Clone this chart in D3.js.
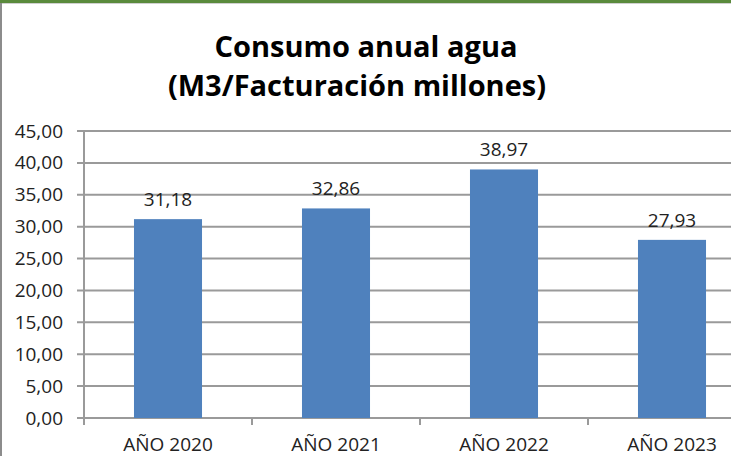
<!DOCTYPE html>
<html>
<head>
<meta charset="utf-8">
<script src="https://cdn.jsdelivr.net/npm/d3@7"></script>
<style>
  body { margin: 0; background: #fff; }
  svg { display: block; }
</style>
</head>
<body>
<svg id="chart" width="731" height="456"></svg>
<script>
const chartWidth = 731;
const chartHeight = 456;

const categories = ["AÑO 2020", "AÑO 2021", "AÑO 2022", "AÑO 2023"];
const values = [31.18, 32.86, 38.97, 27.93];
const yTicks = [0, 5, 10, 15, 20, 25, 30, 35, 40, 45];
const titleLines = ["Consumo anual agua", "(M3/Facturación millones)"];

const fmt = d => d.toFixed(2).replace(".", ",");
const font = "Open Sans, sans-serif";

const margin = {top: 131, right: -25, bottom: 38, left: 84};

let svg = d3.select("#chart");

// frame bits
svg.append("rect")
  .attr("x", 0).attr("y", 0).attr("width", chartWidth).attr("height", 3)
  .attr("fill", "#5a8a3c");
svg.append("line")
  .attr("x1", 0).attr("x2", chartWidth).attr("y1", 3.5).attr("y2", 3.5)
  .attr("stroke", "#d0d0d0").attr("stroke-width", 1);
svg.append("line")
  .attr("x1", 1).attr("x2", 1).attr("y1", 3).attr("y2", chartHeight)
  .attr("stroke", "#8c8c8c").attr("stroke-width", 2);

let x = d3.scaleBand()
  .domain(categories)
  .range([margin.left, chartWidth - margin.right])
  .paddingInner(0.595)
  .paddingOuter(0.2975);

let y = d3.scaleLinear()
  .domain([0, 45])
  .range([chartHeight - margin.bottom, margin.top]);

// gridlines
svg.append("g")
  .selectAll("line")
  .data(yTicks).enter()
  .append("line")
  .attr("x1", margin.left - 7)
  .attr("x2", chartWidth)
  .attr("y1", d => y(d))
  .attr("y2", d => y(d))
  .attr("stroke", "#9a9a9a")
  .attr("stroke-width", 2);

// y axis
let y_axis = d3.axisLeft(y).tickValues(yTicks).tickFormat(fmt).tickSize(0).tickPadding(21);
svg.append("g")
  .attr("transform", `translate(${margin.left}, 0)`)
  .call(y_axis)
  .call(g => g.select(".domain").remove())
  .selectAll("text")
  .attr("font-family", font)
  .attr("font-size", 19)
  .attr("fill", "#222");

svg.append("line")
  .attr("x1", margin.left).attr("x2", margin.left)
  .attr("y1", y(45)).attr("y2", y(0) + 7)
  .attr("stroke", "#9a9a9a").attr("stroke-width", 2);

// category ticks
let step = x.step();
svg.append("g")
  .selectAll("line")
  .data(categories).enter()
  .append("line")
  .attr("x1", d => x(d) + x.bandwidth() / 2 + step / 2)
  .attr("x2", d => x(d) + x.bandwidth() / 2 + step / 2)
  .attr("y1", y(0)).attr("y2", y(0) + 7)
  .attr("stroke", "#9a9a9a").attr("stroke-width", 2);

// bars
svg.append("g")
  .selectAll("rect")
  .data(values).enter()
  .append("rect")
  .attr("x", (d, i) => x(categories[i]))
  .attr("width", x.bandwidth())
  .attr("y", d => y(d))
  .attr("height", d => y(0) - y(d))
  .attr("fill", "#4f81bd");

// data labels
svg.append("g")
  .selectAll("text")
  .data(values).enter()
  .append("text")
  .attr("x", (d, i) => x(categories[i]) + x.bandwidth() / 2)
  .attr("y", d => y(d) - 13)
  .attr("text-anchor", "middle")
  .attr("font-family", font)
  .attr("font-size", 19)
  .attr("fill", "#222")
  .text(fmt);

// category labels
svg.append("g")
  .selectAll("text")
  .data(categories).enter()
  .append("text")
  .attr("x", d => x(d) + x.bandwidth() / 2)
  .attr("y", y(0) + 33)
  .attr("text-anchor", "middle")
  .attr("font-family", font)
  .attr("font-size", 19)
  .attr("fill", "#222")
  .text(d => d);

// title
svg.append("g")
  .selectAll("text")
  .data(titleLines).enter()
  .append("text")
  .attr("x", (d, i) => i == 0 ? 366 : 357)
  .attr("y", (d, i) => 57 + i * 39)
  .attr("text-anchor", "middle")
  .attr("font-family", font)
  .attr("font-weight", "bold")
  .attr("font-size", 29)
  .attr("fill", "#000")
  .text(d => d);
</script>
</body>
</html>
